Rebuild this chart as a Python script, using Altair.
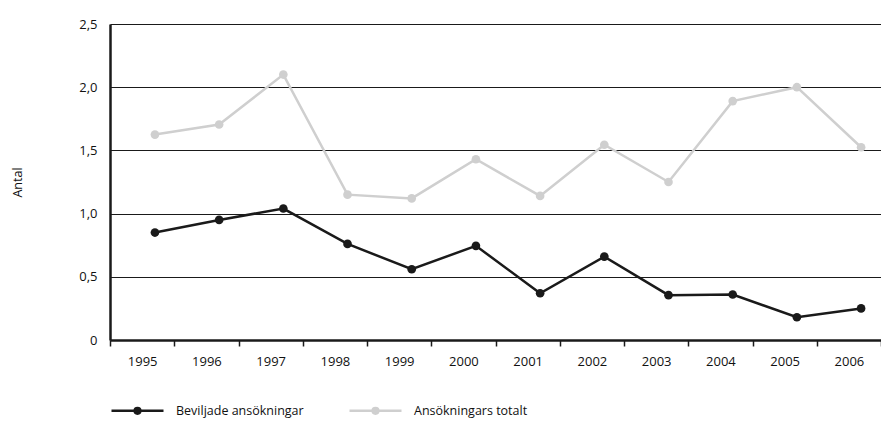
import altair as alt
import pandas as pd

years = [1995, 1996, 1997, 1998, 1999, 2000, 2001, 2002, 2003, 2004, 2005, 2006]
beviljade = [0.85, 0.95, 1.04, 0.76, 0.56, 0.745, 0.37, 0.66, 0.355, 0.36, 0.18, 0.25]
totalt = [1.625, 1.705, 2.10, 1.15, 1.12, 1.43, 1.14, 1.545, 1.25, 1.89, 2.00, 1.525]
series_names = ["Beviljade ansökningar", "Ansökningars totalt"]
series_colors = ["#1a1a1a", "#cfcfcf"]
y_ticks = [0, 0.5, 1.0, 1.5, 2.0, 2.5]

rows = []
for name, vals in zip(series_names, [beviljade, totalt]):
    for yr, v in zip(years, vals):
        rows.append({"year": yr, "value": v, "series": name})
df = pd.DataFrame(rows)

FONT = "Open Sans"

y_enc = alt.Y(
    "value:Q",
    scale=alt.Scale(domain=[0, 2.5], nice=False, zero=True),
    axis=alt.Axis(
        values=y_ticks,
        labelExpr="datum.value == 0 ? '0' : replace(format(datum.value, '.1f'), '.', ',')",
        title="Antal",
        titleAngle=270,
        titleX=-86,
        titleY=158,
        titleBaseline="bottom",
        titleFontSize=12.5,
        titleFontWeight="normal",
        titleColor="#111",
        labelFontSize=13,
        labelColor="#111",
        labelPadding=13,
        ticks=False,
        domain=True,
        domainColor="#1a1a1a",
        domainWidth=2.5,
        grid=True,
        gridColor="#1a1a1a",
        gridWidth=1.2,
    ),
)

scale_series = alt.Scale(domain=series_names, range=series_colors)
sym_path = "M-1,0H1M0.11,0A0.11,0.11,0,1,1,-0.11,0A0.11,0.11,0,1,1,0.11,0Z"
legend = alt.Legend(
    title=None,
    orient="none",
    legendX=0,
    legendY=359,
    direction="horizontal",
    symbolType=sym_path,
    symbolSize=2704,
    symbolStrokeWidth=2.5,
    labelOffset=11,
    columnPadding=40,
    labelFontSize=12.5,
    labelColor="#111",
    labelFont=FONT,
)

axis_layer = alt.Chart(df).mark_point(opacity=0).encode(
    x=alt.X(
        "year:O",
        scale=alt.Scale(type="band", paddingInner=0, paddingOuter=0),
        axis=alt.Axis(
            title=None,
            labelAngle=0,
            labelFontSize=13,
            labelColor="#111",
            labelPadding=9,
            tickBand="extent",
            tickSize=6,
            tickColor="#1a1a1a",
            tickWidth=1.5,
            domainColor="#1a1a1a",
            domainWidth=2.5,
            grid=False,
        ),
    ),
    y=y_enc,
)

x_q = alt.X("year:Q", scale=alt.Scale(domain=[1994.3, 2006.31], nice=False, zero=False), axis=None)

lines = alt.Chart(df).mark_line(strokeWidth=2.5).encode(
    x=x_q,
    y=y_enc,
    stroke=alt.Stroke("series:N", scale=scale_series, legend=legend),
    order=alt.Order("year:Q"),
)

points = alt.Chart(df).mark_point(filled=True, size=75, opacity=1).encode(
    x=x_q,
    y=y_enc,
    fill=alt.Fill("series:N", scale=scale_series, legend=legend),
)

chart = (
    alt.layer(axis_layer, lines, points)
    .resolve_scale(x="independent")
    .properties(
        width=771,
        height=316,
        autosize=alt.AutoSizeParams(type="none"),
        padding={"left": 102, "top": 16, "right": 0, "bottom": 80},
    )
    .configure_view(stroke=None)
    .configure(font=FONT)
    .configure_axis(labelFont=FONT, titleFont=FONT)
)

chart.save("out.html", embed_options={"renderer": "svg", "actions": False})
